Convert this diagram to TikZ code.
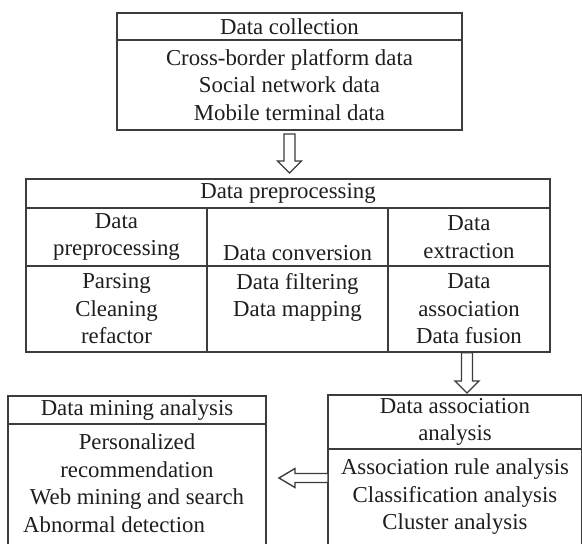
\documentclass[tikz,border=0pt]{standalone}
\usepackage{fontspec}
\setmainfont{Liberation Serif}
\usetikzlibrary{positioning, calc}
\definecolor{framegray}{HTML}{3C3C3C}
\definecolor{inkblack}{HTML}{1E1E1E}
\tikzset{
  cell/.style={draw=framegray, line width=1.4pt, align=center, inner sep=0pt,
               outer sep=0pt, text=inkblack, font=\fontsize{22.8}{27.5}\selectfont},
  txt/.style={align=center, inner sep=0pt, text=inkblack,
              font=\fontsize{22.8}{27.5}\selectfont},
  hollow/.style={draw=framegray, line width=1.4pt, fill=white, line join=miter},
}
% hollow block arrow pointing down: from, to, top gap, tip gap
\newcommand{\hollowdown}[4]{%
  \draw[hollow] ($(#1)+(-5.5,#3)$) -- ($(#1 |- #2)+(-5.5,-12-#4)$) -- ++(-6.5,0)
    -- ($(#1 |- #2)+(0,-#4)$) -- ++(12,-12) -- ++(-6.5,0) -- ($(#1)+(5.5,#3)$) -- cycle;}

\begin{document}
\begin{tikzpicture}[x=1pt, y=-1pt]
  \useasboundingbox (0,0) rectangle (582,544);
  \clip (0,0) rectangle (582,544);

  % collection
  \node[cell, minimum width=345, minimum height=27] (collhead) at (289.5,26.5) {Data collection};
  \node[cell, below=0pt of collhead, minimum width=345, minimum height=90] (collbody)
    {Cross-border platform data\\ Social network data\\ Mobile terminal data};

  % preprocessing table
  \node[cell, minimum width=524, minimum height=29] (prephead) at (288,193.5) {Data preprocessing};
  \node[cell, minimum width=181, minimum height=58, anchor=north west] (pre1)
    at (prephead.south west) {Data\\ preprocessing};
  \node[cell, minimum width=181, minimum height=58, right=0pt of pre1] (conv1) {\strut\\ Data conversion};
  \node[cell, minimum width=162, minimum height=58, right=0pt of conv1] (extr1) {Data\\ extraction};
  \node[cell, minimum width=181, minimum height=86, below=0pt of pre1] (pre2)
    {Parsing\\ Cleaning\\ refactor};
  \node[cell, minimum width=181, minimum height=86, below=0pt of conv1] (conv2)
    {Data filtering\\ Data mapping\\ \phantom{Data}};
  \node[cell, minimum width=162, minimum height=86, below=0pt of extr1] (extr2)
    {Data\\ association\\ Data fusion};

  % association analysis
  \node[cell, minimum width=254, minimum height=54] (assochead) at (455,422)
    {Data association\\ analysis};
  \node[cell, below=0pt of assochead, minimum width=254, minimum height=130] (assocbody) {};
  \node[txt, below=9.5pt of assochead] (assoctxt)
    {Association rule analysis\\ Classification analysis\\ Cluster analysis};

  % mining analysis
  \node[cell, minimum width=258, minimum height=28] (minehead) at (137,410) {Data mining analysis};
  \node[cell, below=0pt of minehead, minimum width=258, minimum height=140] (minebody) {};
  \node[txt, below=9.5pt of minehead] (minetxt)
    {Personalized\\ recommendation\\ Web mining and search};
  \node[txt, anchor=west] (abnormal) at (23,525) {Abnormal detection};

  % arrows
  \hollowdown{collbody.south}{prephead.north}{4}{6}
  \coordinate (extrout) at ($(extr2.south)+(-2,0)$);
  \hollowdown{extrout}{assochead.north}{0.7}{2}
  \draw[hollow] ($(assochead.south west)+(0,24.5)$) -- ++(-33,0) -- ++(0,-5)
    -- ($(minehead.south east)+(13,54)$) -- ++(16,9.5) -- ++(0,-5) -- ++(33,0) -- cycle;
\end{tikzpicture}
\end{document}
